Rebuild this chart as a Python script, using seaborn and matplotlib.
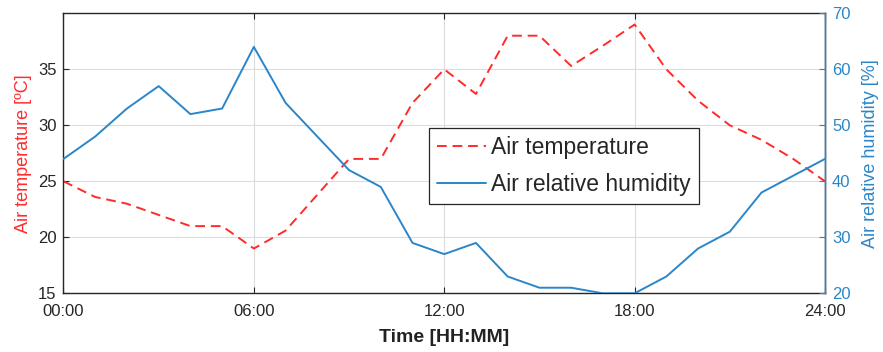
import pandas as pd
import matplotlib
matplotlib.use('Agg')
import matplotlib.pyplot as plt
import seaborn as sns

hours = list(range(25))
temperature = [25.0, 23.6, 23.0, 22.0, 21.0, 21.0, 19.0, 20.6, 23.8, 27.0, 27.0, 32.0, 35.0,
               32.8, 38.0, 38.0, 35.3, 37.1, 39.0, 35.0, 32.2, 30.0, 28.7, 27.0, 25.0]
humidity = [44, 48, 53, 57, 52, 53, 64, 54, 48, 42, 39, 29, 27,
            29, 23, 21, 21, 20, 20, 23, 28, 31, 38, 41, 44]
xtick_pos = [0, 6, 12, 18, 24]
xtick_labels = ['00:00', '06:00', '12:00', '18:00', '24:00']

df = pd.DataFrame({'hour': hours, 'temp': temperature, 'rh': humidity})

sns.set_style('white')
plt.rcParams['font.family'] = ['Liberation Sans', 'DejaVu Sans']

red = '#FF2B2B'
blue = '#2B86C8'

fig = plt.figure(figsize=(8.83, 3.52), dpi=100)
ax = fig.add_axes([0.0719, 0.1667, 0.8624, 0.7955])
ax2 = ax.twinx()

sns.lineplot(x='hour', y='temp', data=df, ax=ax, color=red, linestyle=(0, (5, 3)),
             linewidth=1.4, label='Air temperature', legend=False)
sns.lineplot(x='hour', y='rh', data=df, ax=ax2, color=blue, linewidth=1.4,
             label='Air relative humidity', legend=False)

ax.set_xlim(0, 24)
ax.set_ylim(15, 40)
ax.set_yticks([15, 20, 25, 30, 35])
ax.set_xticks(xtick_pos)
ax.set_xticklabels(xtick_labels)
ax2.set_ylim(20, 70)
ax2.set_yticks([20, 30, 40, 50, 60, 70])

ax.grid(True, color='#dcdcdc', linewidth=0.8)
ax.set_axisbelow(True)

ax.set_xlabel('Time [HH:MM]', fontsize=14, fontweight='bold', color='#222222', labelpad=7)
ax.set_ylabel('Air temperature [ºC]', fontsize=13, color=red, labelpad=4)
ax2.set_ylabel('Air relative humidity [%]', fontsize=13, color=blue, labelpad=8)

ax.tick_params(axis='both', direction='in', length=4, labelsize=12, colors='#262626',
               top=True, bottom=True, left=True, right=False)
ax.tick_params(axis='x', pad=8)
ax.tick_params(axis='y', pad=5)
ax2.tick_params(axis='y', direction='in', length=4, labelsize=12, colors=blue, pad=5)

for s in ['top', 'bottom']:
    ax.spines[s].set_color('#262626')
ax.spines['left'].set_color('#262626')
ax2.spines['right'].set_color(blue)
ax2.spines['left'].set_visible(False)
ax2.spines['top'].set_visible(False)
ax2.spines['bottom'].set_visible(False)
for s in ax.spines.values():
    s.set_linewidth(1.0)
ax2.spines['right'].set_linewidth(1.0)

h1, l1 = ax.get_legend_handles_labels()
h2, l2 = ax2.get_legend_handles_labels()
leg = ax2.legend(h1 + h2, l1 + l2, loc='upper left', bbox_to_anchor=(0.48, 0.59),
                 borderaxespad=0, fontsize=16.5, frameon=True, fancybox=False, framealpha=1,
                 edgecolor='#262626', handlelength=2.15, borderpad=0.35,
                 labelspacing=0.6, handletextpad=0.2)
leg.get_frame().set_linewidth(0.9)

fig.savefig('out.png', dpi=100)
